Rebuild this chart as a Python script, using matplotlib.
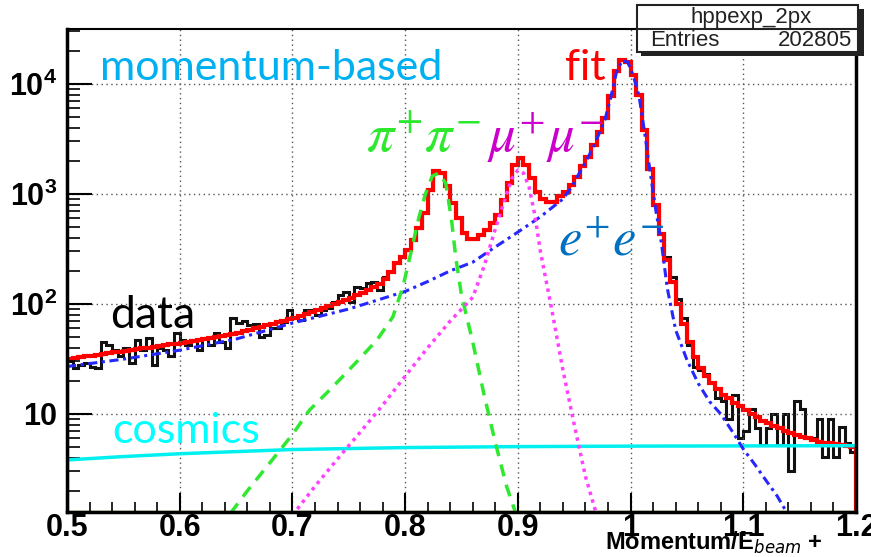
import matplotlib.pyplot as plt
import numpy as np
from matplotlib import font_manager
from matplotlib.patches import Rectangle
from matplotlib.ticker import FixedLocator, MultipleLocator, NullFormatter

installed = {f.name for f in font_manager.fontManager.ttflist}
axis_font = 'Liberation Sans Narrow' if 'Liberation Sans Narrow' in installed else 'Liberation Sans'

plt.rcParams['mathtext.fontset'] = 'custom'
plt.rcParams['mathtext.rm'] = axis_font + ':bold'
plt.rcParams['mathtext.bf'] = axis_font + ':bold'

# histogram: 140 bins of 0.005 between 0.5 and 1.2
x_lo, x_hi, n_bins = 0.5, 1.2, 140
counts = [30, 26, 28, 29, 27, 26, 45, 42, 38, 34,
          40, 29, 47, 38, 49, 28, 40, 38, 34, 54,
          47, 42, 47, 38, 49, 42, 54, 45, 40, 75,
          67, 70, 64, 66, 50, 52, 61, 60, 69, 88,
          75, 72, 88, 88, 80, 88, 91, 105, 120, 129,
          105, 144, 140, 155, 160, 135, 177, 196, 236,
          270, 310, 380, 490, 670, 1090, 1620, 1550, 1170, 830,
          600, 440, 390, 390, 420, 470, 550, 650, 880, 1260,
          1840, 2140, 1840, 1400, 1050, 900, 840, 850, 950, 1050,
          1200, 1440, 1780, 2190, 2780, 3660, 4880, 7700, 13000, 16500,
          16000, 12000, 8000, 3800, 1700, 800, 430,
          270, 175, 110, 75, 42, 27, 25, 23, 19, 14,
          13, 9, 15, 6, 7, 11, 7.5, 5.2, 7.5, 10,
          5.2, 10, 3, 13, 11, 6, 6, 9, 4.1, 9,
          4.1, 7.6, 5.5, 4.5]

# total fit, evaluated per bin
fit = [31.8, 32.3, 32.8, 33.4, 34.0, 34.5, 35.1, 35.7, 36.3, 36.9,
       37.5, 38.2, 38.8, 39.4, 40.1, 40.8, 41.5, 42.2, 42.9, 43.6,
       44.4, 45.3, 46.2, 47.2, 48.2, 49.2, 50.2, 51.3, 52.4, 53.5,
       54.7, 56.5, 58.2, 60.1, 61.9, 64.0, 65.9, 68.1, 70.2, 72.4,
       75.0, 78.2, 81.5, 84.9, 88.5, 92.3, 96.2, 100, 104, 109,
       114, 120, 127, 134, 142, 151, 170, 195, 234,
       270, 310, 380, 490, 670, 1090, 1620, 1550, 1170, 830,
       600, 440, 390, 390, 420, 470, 550, 650, 880, 1260,
       1840, 2140, 1840, 1400, 1050, 900, 840, 850, 950, 1050,
       1200, 1440, 1780, 2190, 2780, 3660, 4880, 7700, 13000, 16500,
       16000, 12000, 8000, 3800, 1700, 800, 430,
       250, 160, 100, 66, 45, 33, 26, 22, 19, 17,
       15, 14, 12.7, 11.7, 10.8, 10.0, 9.3, 8.7, 8.3, 7.8,
       7.4, 7.0, 6.7, 6.4, 6.2, 6.0, 5.8, 5.6, 5.5, 5.4,
       5.3, 5.2, 5.1, 5.05]

# fit components
ee_x = [0.50, 0.55, 0.60, 0.65, 0.70, 0.75, 0.80, 0.82, 0.84, 0.86,
        0.88, 0.90, 0.92, 0.94, 0.9475, 0.9525, 0.9575, 0.9625, 0.9675, 0.9725,
        0.9775, 0.9825, 0.9875, 0.9925, 0.9975, 1.0025, 1.0075, 1.0125, 1.0175, 1.0225,
        1.0275, 1.0325, 1.04, 1.05, 1.06, 1.07, 1.08, 1.09, 1.10, 1.11,
        1.12, 1.13, 1.14]
ee_y = [27, 31.5, 38, 48, 67, 90, 130, 160, 200, 240,
        330, 450, 620, 900, 1150, 1420, 1760, 2170, 2750, 3620,
        4830, 7600, 12800, 16300, 15800, 11800, 7800, 3600, 1550, 700,
        350, 140, 58, 31, 19, 13, 10, 7, 4.8, 3.5,
        2.5, 1.8, 1.2]

pipi_x = [0.645, 0.66, 0.68, 0.70, 0.715, 0.733, 0.75, 0.775, 0.789, 0.798,
          0.805, 0.812, 0.818, 0.824, 0.83, 0.836, 0.841, 0.845, 0.85, 0.86,
          0.87, 0.88, 0.89, 0.90]
pipi_y = [1.25, 2.0, 3.6, 6.5, 10.8, 16.5, 25, 47, 76, 143,
          290, 600, 1000, 1450, 1550, 1250, 600, 260, 120, 45,
          15, 5.5, 2.2, 1.1]

mumu_x = [0.70, 0.72, 0.74, 0.76, 0.78, 0.80, 0.82, 0.84, 0.86, 0.87,
          0.88, 0.89, 0.895, 0.90, 0.905, 0.91, 0.915, 0.92, 0.93, 0.94,
          0.95, 0.96, 0.97]
mumu_y = [1.2, 2.2, 3.9, 6.8, 12, 22, 40, 70, 115, 220,
          480, 1000, 1400, 1650, 1550, 1150, 650, 300, 90, 25,
          8, 2.7, 1.2]

cosmic_x = [0.5, 0.55, 0.6, 0.65, 0.7, 0.8, 0.9, 1.0, 1.2]
cosmic_y = [3.82, 4.1, 4.35, 4.55, 4.75, 4.95, 5.05, 5.1, 5.15]

xtick_vals = [0.5, 0.6, 0.7, 0.8, 0.9, 1.0, 1.1, 1.2]
xtick_labels = ['0.5', '0.6', '0.7', '0.8', '0.9', '1', '1.1', '1.2']
ytick_vals = [10, 100, 1000, 10000]
ytick_labels = ['10', r'$10^{2}$', r'$10^{3}$', r'$10^{4}$']
entries = 202805

W, H = 871, 557
fig = plt.figure(figsize=(W / 100, H / 100), dpi=100)
ax = fig.add_axes([67 / W, 1 - 512 / H, (856 - 67) / W, (512 - 29) / H])

edges = np.linspace(x_lo, x_hi, n_bins + 1)

ax.plot(cosmic_x, cosmic_y, color='#00f0f0', lw=2.5)
ax.plot(ee_x, ee_y, color='#2626ff', lw=2.2, ls=(0, (3, 1.5, 1, 1.5)))
ax.plot(pipi_x, pipi_y, color='#2fe82f', lw=2.5, ls=(0, (3.5, 2.5)))
ax.plot(mumu_x, mumu_y, color='#ff40ff', lw=2.5, ls=(0, (1, 1.3)))
ax.stairs(counts, edges, color='#111111', lw=2.2)
ax.stairs(fit, edges, color='#ff0000', lw=3)
ax.axhline(1.285, color='#a8b020', lw=2.5, zorder=1)

ax.set_yscale('log')
ax.set_xlim(x_lo, x_hi)
ax.set_ylim(1.285, 31600)

ax.set_xticks(xtick_vals)
ax.set_xticklabels(xtick_labels)
ax.xaxis.set_minor_locator(MultipleLocator(0.02))
ax.yaxis.set_major_locator(FixedLocator(ytick_vals))
ax.set_yticklabels(ytick_labels)
ax.yaxis.set_minor_formatter(NullFormatter())

for lab in ax.get_xticklabels() + ax.get_yticklabels():
    lab.set_fontfamily(axis_font)
    lab.set_fontweight('bold')
    lab.set_fontsize(22)

ax.tick_params(axis='x', which='major', direction='in', length=14, width=1.5, pad=1)
ax.tick_params(axis='x', which='minor', direction='in', length=7, width=1.2)
ax.tick_params(axis='y', which='major', direction='in', length=18, width=1.5, pad=7)
ax.tick_params(axis='y', which='minor', direction='in', length=9, width=1.2)

ax.grid(True, which='major', color='#555555', lw=1, ls=(0, (1, 2.5)))
for side in ['left', 'bottom', 'right']:
    ax.spines[side].set_linewidth(2.5)
ax.spines['top'].set_linewidth(1.5)

fig.text(605 / W, 1 - 550 / H, r'Momentum/E$_{beam}$ +', fontsize=17,
         fontweight='bold', family=axis_font, ha='left', va='baseline')

# stats box with shadow
def px(x, y):
    return x / W, 1 - y / H

fig.add_artist(Rectangle(px(641, 56), (864 - 641) / W, (56 - 9) / H,
                         transform=fig.transFigure, facecolor='#222222',
                         edgecolor='none'))
fig.add_artist(Rectangle(px(637, 52), (858 - 637) / W, (52 - 5) / H,
                         transform=fig.transFigure, facecolor='white',
                         edgecolor='#222222', lw=1.5))
fig.add_artist(plt.Line2D([637 / W, 858 / W], [1 - 29 / H, 1 - 29 / H],
                          transform=fig.transFigure, color='#222222', lw=1.5))
fig.text(*px(751, 17), 'hppexp_2px', fontsize=16, family='Liberation Sans',
         ha='center', va='center', color='#222222')
fig.text(*px(650, 41), 'Entries', fontsize=16, family='Liberation Sans',
         ha='left', va='center', color='#222222')
fig.text(*px(852, 41), str(entries), fontsize=16, family='Liberation Sans',
         ha='right', va='center', color='#222222')

# curve annotations
fig.text(*px(100, 80), 'momentum-based', fontsize=31, family='Lato',
         color='#00b0f0', va='baseline')
fig.text(*px(565, 80), 'fit', fontsize=31, family='Lato', color='#ff0000',
         va='baseline')
fig.text(*px(110, 328), 'data', fontsize=32, family='Lato', color='black',
         va='baseline')
fig.text(*px(112, 443), 'cosmics', fontsize=31, family='Lato',
         color='#00ffff', va='baseline')
fig.text(*px(366, 152), r'$\pi^{+}\pi^{-}$', fontsize=39, math_fontfamily='stix',
         color='#2ee82e', va='baseline')
fig.text(*px(487, 152), r'$\mu^{+}\mu^{-}$', fontsize=38, math_fontfamily='stix',
         color='#cc00cc', va='baseline')
fig.text(*px(558, 256), r'$e^{+}e^{-}$', fontsize=38, math_fontfamily='stix',
         color='#0070c0', va='baseline')

fig.savefig('out.png', dpi=100)
